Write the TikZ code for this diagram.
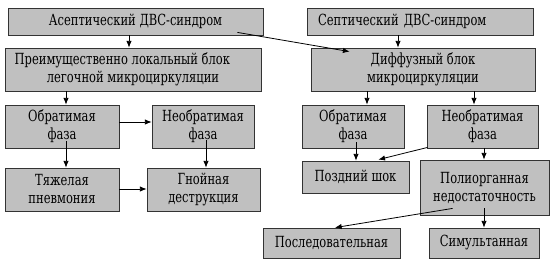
\documentclass[tikz,border=0pt]{standalone}
\usepackage{fontspec}
\setmainfont{DejaVu Serif}[FakeStretch=0.75]
\usetikzlibrary{arrows.meta,calc}

\tikzset{
  box/.style={draw=black!80, fill={rgb,255:red,192;green,192;blue,192}, line width=0.6pt,
    inner sep=0pt, align=center, font=\fontsize{11.5}{13.5}\selectfont},
  arr/.style={line width=0.6pt, -{Latex[length=5pt,width=4pt]}}
}

\begin{document}
\begin{tikzpicture}[x=0.75pt,y=-0.75pt]
\useasboundingbox (0,0) rectangle (554,265);
% left branch
\begin{scope}
  \node[box, minimum width=191.25pt, minimum height=20.25pt] (asept) at (135.5,21.5) {Асептический ДВС-синдром};
  \node[box, minimum width=192pt, minimum height=32.25pt] (lokal) at (133,69.5) {Преимущественно локальный блок\hspace*{16pt}\\легочной микроциркуляции};
  \node[box, minimum width=85.5pt, minimum height=32.25pt] (obrL) at (62,126.5) {Обратимая\\фаза};
  \node[box, minimum width=76.5pt, minimum height=32.25pt] (neobrL) at (203,126.5) {Необратимая\\фаза};
  \node[box, minimum width=85.5pt, minimum height=32.25pt] (pnevm) at (62,189.5) {Тяжелая\\пневмония};
  \node[box, minimum width=84.75pt, minimum height=32.25pt] (gnoin) at (203.5,189.5) {Гнойная\\деструкция};
\end{scope}
% right branch
\begin{scope}
  \node[box, minimum height=20.25pt, inner xsep=8.25pt, text width=153pt, align=left] (sept) at (420,21.5) {Септический ДВС-синдром};
  \node[box, minimum width=168pt, minimum height=32.25pt] (diff) at (423,69.5) {Диффузный блок\\микроциркуляции};
  \node[box, minimum width=76.5pt, minimum height=32.25pt] (obrR) at (353,126.5) {Обратимая\\фаза};
  \node[box, minimum width=83.25pt, minimum height=32.25pt] (neobrR) at (482.5,126.5) {Необратимая\\фаза};
  \node[box, minimum width=80.25pt, minimum height=24pt] (shok) at (355.5,177) {Поздний шок};
  \node[box, minimum width=96.75pt, minimum height=41.25pt] (polyorg) at (484.5,187.5) {Полиорганная\\недостаточность};
  \node[box, minimum width=102.75pt, minimum height=22.5pt] (posled) at (331.5,243) {Последовательная};
  \node[box, minimum width=82.5pt, minimum height=22.5pt] (simult) at (484,243) {Симультанная};
\end{scope}
% connectors
\draw[arr] (asept.south -| 129,0) -- (lokal.north -| 129,0);
\draw[arr] ($(asept.south east)+(-26,-3)$) -- ($(diff.north west)+(39,4)$);
\draw[arr] (sept.south -| 398,0) -- (diff.north -| 398,0);
\draw[arr] (lokal.south -| 66,0) -- (obrL.north -| 66,0);
\draw[arr] (diff.south -| 367,0) -- (obrR.north -| 367,0);
\draw[arr] (diff.south -| 474,0) -- (neobrR.north -| 474,0);
\draw[arr] (obrL.east |- 0,122) -- (neobrL.west |- 0,122);
\draw[arr] ($(obrL.south)+(4,-7)$) -- (pnevm.north -| 66,0);
\draw[arr] ($(neobrL.south)+(3,-8)$) -- (gnoin.north -| 206,0);
\draw[arr] (pnevm.east |- 0,189) -- (gnoin.west |- 0,189);
\draw[arr] ($(obrR.south)+(3,-6)$) -- (shok.north -| 356,0);
\draw[arr] ($(neobrR.south west)+(1,-1)$) -- ($(shok.north east)+(-31,-1)$);
\draw[arr] (neobrR.south -| 484,0) -- (polyorg.north -| 484,0);
\draw[arr] ($(polyorg.south west)+(33,-7)$) -- ($(posled.north)+(3.5,0)$);
\draw[arr] ($(polyorg.south)+(-0.5,-7)$) -- (simult.north -| 484,0);
\end{tikzpicture}
\end{document}
